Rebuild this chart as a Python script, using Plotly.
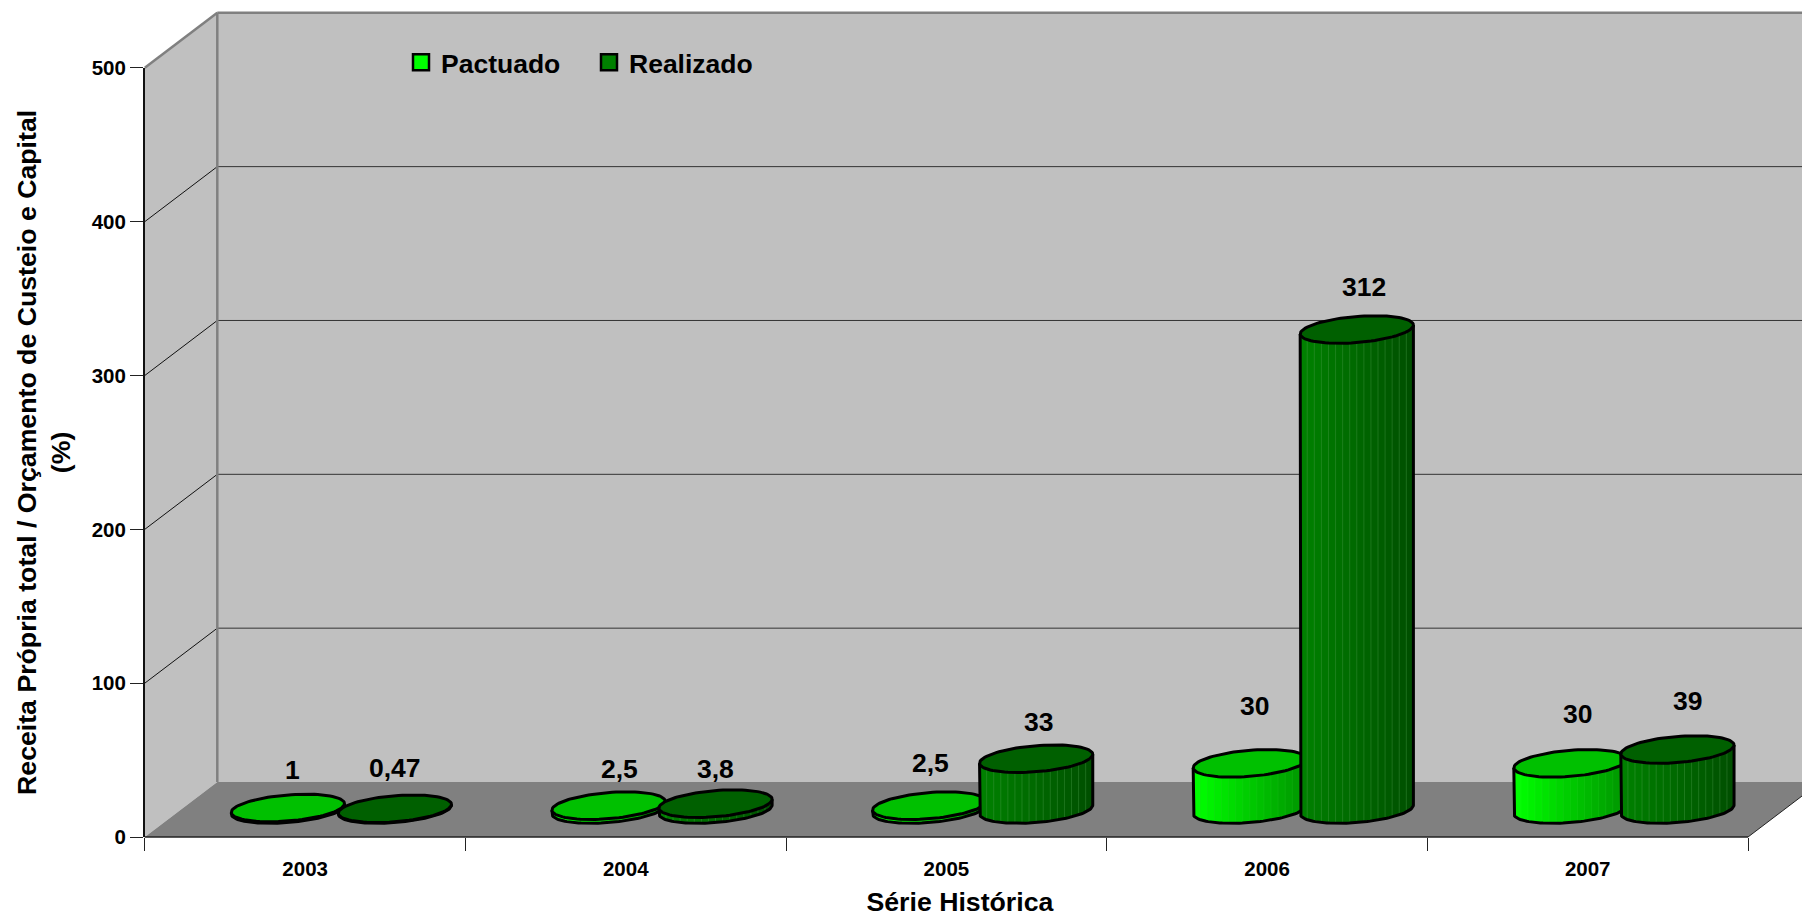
import numpy as np
import plotly.graph_objects as go

# ---- data ----
categories = ["2003", "2004", "2005", "2006", "2007"]
pactuado = [1, 2.5, 2.5, 30, 30]
realizado = [0.47, 3.8, 33, 312, 39]
pactuado_labels = ["1", "2,5", "2,5", "30", "30"]
realizado_labels = ["0,47", "3,8", "33", "312", "39"]
y_ticks = [0, 100, 200, 300, 400, 500]

# ---- manual label nudges of the original (pixels: right, up) ----
pactuado_nudge = [(5, 38), (11, 37), (1, 43), (5, 57), (7, 49)]
realizado_nudge = [(0, 41), (0, 35), (2, 37), (7, 43), (10, 49)]

# ---- page geometry ----
W, H = 1802, 917
X0, X5 = 144.8, 1748.0     # px of category edges 0 and 5
XTITLE_END = 1775.0        # right end of axis domain: centres the title
Y0, Y500 = 837.0, 67.8     # px of values 0 and 500
PX_X = (X5 - X0) / 5
PX_Y = (Y0 - Y500) / 500
XMAX = (XTITLE_END - X0) / PX_X

DX = 72.5 / PX_X           # depth vector, axis units
DY = 55.0 / PX_Y
BAR_OFF = 53.5 / PX_X
RX = 53.6 / PX_X
AX = 18.2 / PX_X
AY = 13.8 / PX_Y
T0 = np.arctan2(AX, RX)
N_STRIPS = 16

WALL, FLOOR, EDGE = "#C0C0C0", "#808080", "#808080"
GRID = "#333333"
FONT = "Liberation Sans"


def px(x):
    return (X0 + x * PX_X) / W


def py(y):
    return (H - Y0 + y * PX_Y) / H


def poly(pts, **kw):
    path = "M " + " L ".join(f"{px(a):.5f},{py(b):.5f}" for a, b in pts) + " Z"
    return dict(type="path", path=path, xref="paper", yref="paper", layer="below", **kw)


def seg(a, b, color, width):
    return dict(type="line", xref="paper", yref="paper", layer="below",
                x0=px(a[0]), y0=py(a[1]), x1=px(b[0]), y1=py(b[1]),
                line=dict(color=color, width=width))


shapes = [
    poly([(0, 0), (DX, DY), (DX, 500 + DY), (0, 500)], fillcolor=WALL, line=dict(width=0)),
    poly([(DX, DY), (5 + DX, DY), (5 + DX, 500 + DY), (DX, 500 + DY)], fillcolor=WALL, line=dict(width=0)),
    poly([(0, 0), (5, 0), (5 + DX, DY), (DX, DY)], fillcolor=FLOOR, line=dict(width=0)),
]
for v in y_ticks[1:-1]:
    shapes.append(seg((0, v), (DX, v + DY), "#111111", 1))
    shapes.append(seg((DX, v + DY), (5 + DX, v + DY), GRID, 1))
shapes += [
    seg((DX, DY), (DX, 500 + DY), EDGE, 2.5),
    seg((0, 500), (DX, 500 + DY), EDGE, 2.5),
    seg((DX, 500 + DY), (5 + DX, 500 + DY), EDGE, 2.5),
    seg((5, 0), (5 + DX, DY), "#222222", 1),
    seg((0, 0), (5, 0), "#222222", 1.5),
]


def ellipse_pt(cx, cy, t):
    return cx + RX * np.cos(t) + AX * np.sin(t), cy + AY * np.sin(t)


def lerp(c0, c1, f):
    return "rgb(" + ",".join(str(int(round(a + (b - a) * f))) for a, b in zip(c0, c1)) + ")"


def add_series(fig, values, offset, c_left, c_right, top_color, seam_color):
    centers = [i + 0.5 + DX / 2 + offset for i in range(len(values))]
    base = DY / 2
    u_edges = np.linspace(-1, 1, N_STRIPS + 1)

    def front_t(u):
        return T0 - np.arccos(np.clip(u, -1, 1))

    # silhouette underlay closes the hairlines between strips
    xs, ys = [], []
    for cx, v in zip(centers, values):
        ts = np.linspace(T0 - np.pi, T0, 60)
        bx, by = ellipse_pt(cx, base, ts)
        tx, ty = ellipse_pt(cx, base + v, ts[::-1])
        xs += list(bx) + list(tx) + [None]
        ys += list(by) + list(ty) + [None]
    fig.add_trace(go.Scatter(x=xs, y=ys, mode="lines", fill="toself",
                             fillcolor=lerp(c_left, c_right, 0.5),
                             line=dict(width=0), hoverinfo="skip", showlegend=False))
    # gradient strips
    for k in range(N_STRIPS):
        xs, ys = [], []
        for cx, v in zip(centers, values):
            ts = front_t(np.linspace(u_edges[k], u_edges[k + 1], 6))
            bx, by = ellipse_pt(cx, base, ts)
            tx, ty = ellipse_pt(cx, base + v, ts[::-1])
            xs += list(bx) + list(tx) + [None]
            ys += list(by) + list(ty) + [None]
        fig.add_trace(go.Scatter(x=xs, y=ys, mode="lines", fill="toself",
                                 fillcolor=lerp(c_left, c_right, k / (N_STRIPS - 1)),
                                 line=dict(width=0), hoverinfo="skip", showlegend=False))
    # faint seams between strips
    xs, ys = [], []
    for cx, v in zip(centers, values):
        for u in u_edges[1:-1]:
            t = front_t(u)
            bx, by = ellipse_pt(cx, base, t)
            tx, ty = ellipse_pt(cx, base + v, t)
            xs += [bx, tx, None]
            ys += [by, ty, None]
    fig.add_trace(go.Scatter(x=xs, y=ys, mode="lines", line=dict(color=seam_color, width=1),
                             hoverinfo="skip", showlegend=False))
    # body outline
    xs, ys = [], []
    for cx, v in zip(centers, values):
        ts = np.linspace(T0 - np.pi, T0, 60)
        bx, by = ellipse_pt(cx, base, ts)
        tlx, tly = ellipse_pt(cx, base + v, ts[0])
        trx, try_ = ellipse_pt(cx, base + v, ts[-1])
        xs += [tlx] + list(bx) + [trx, None]
        ys += [tly] + list(by) + [try_, None]
    fig.add_trace(go.Scatter(x=xs, y=ys, mode="lines", line=dict(color="black", width=3),
                             hoverinfo="skip", showlegend=False))
    # top caps
    xs, ys = [], []
    for cx, v in zip(centers, values):
        ts = np.linspace(0, 2 * np.pi, 90)
        tx, ty = ellipse_pt(cx, base + v, ts)
        xs += list(tx) + [None]
        ys += list(ty) + [None]
    fig.add_trace(go.Scatter(x=xs, y=ys, mode="lines", fill="toself", fillcolor=top_color,
                             line=dict(color="black", width=3), hoverinfo="skip", showlegend=False))
    return centers


fig = go.Figure()
c_p = add_series(fig, pactuado, -BAR_OFF, (0, 255, 0), (0, 150, 0), "#00C000", "rgba(255,255,255,0.04)")
c_r = add_series(fig, realizado, BAR_OFF, (0, 128, 0), (0, 80, 0), "#006000", "rgba(140,210,140,0.2)")

# legend entries
fig.add_trace(go.Scatter(x=[None], y=[None], mode="markers", name="Pactuado",
                         marker=dict(symbol="square", size=16, color="#00FF00",
                                     line=dict(color="black", width=2.5))))
fig.add_trace(go.Scatter(x=[None], y=[None], mode="markers", name="Realizado",
                         marker=dict(symbol="square", size=16, color="#008000",
                                     line=dict(color="black", width=2.5))))

annotations = []
for centers, vals, texts, nudges in ((c_p, pactuado, pactuado_labels, pactuado_nudge),
                                     (c_r, realizado, realizado_labels, realizado_nudge)):
    for cx, v, t, (nx, ny) in zip(centers, vals, texts, nudges):
        annotations.append(dict(x=cx, y=v + DY / 2, text=t, showarrow=False,
                                xshift=nx, yshift=ny, xanchor="center", yanchor="middle",
                                font=dict(family=FONT, size=26.5, color="black", weight=700)))

tick_font = dict(family=FONT, size=20.5, color="black", weight=700)
title_font = dict(family=FONT, size=26.7, color="black", weight=700)

fig.update_layout(
    width=W, height=H, autosize=False,
    margin=dict(l=0, r=0, t=0, b=0),
    paper_bgcolor="white", plot_bgcolor="rgba(0,0,0,0)",
    shapes=shapes, annotations=annotations,
    showlegend=True,
    legend=dict(orientation="h", x=401 / W, y=1 - 62.5 / H,
                xanchor="left", yanchor="middle", bgcolor="rgba(0,0,0,0)",
                font=dict(family=FONT, size=26.5, color="black", weight=700),
                entrywidth=143, entrywidthmode="pixels", itemsizing="trace", tracegroupgap=0),
    xaxis=dict(domain=[X0 / W, XTITLE_END / W], range=[0, XMAX],
               tickmode="array", tickvals=[i + 0.5 for i in range(5)], ticktext=categories,
               ticks="outside", ticklen=13, tickwidth=1, tickcolor="rgba(0,0,0,0)",
               showgrid=False, zeroline=False, showline=False,
               tickfont=tick_font, automargin=False,
               minor=dict(tickmode="array", tickvals=list(range(6)), ticks="outside",
                          ticklen=13, tickwidth=1, tickcolor="#222222", showgrid=False),
               title=dict(text="Série Histórica", font=title_font, standoff=20)),
    yaxis=dict(domain=[(H - Y0) / H, (H - Y500) / H], range=[0, 500],
               tickmode="array", tickvals=y_ticks, ticks="outside", ticklen=13, tickwidth=1,
               tickcolor="#222222", showgrid=False, zeroline=False, showline=True,
               linecolor="#111111", linewidth=1.5, tickfont=tick_font, automargin=False,
               title=dict(text="Receita Própria total / Orçamento de Custeio e Capital<br>(%)",
                          font=title_font, standoff=13)),
)

fig.write_html("out.html", config={"displayModeBar": False},
               post_script="document.body.style.margin='0';document.body.style.overflow='hidden';")
